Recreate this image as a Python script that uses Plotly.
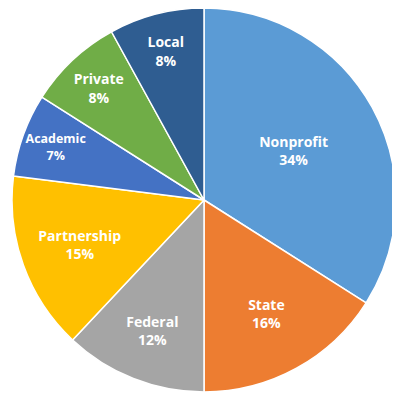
import plotly.graph_objects as go

labels = ["Nonprofit", "State", "Federal", "Partnership", "Academic", "Private", "Local"]
values = [34, 16, 12, 15, 7, 8, 8]
colors = ["#5B9BD5", "#ED7D31", "#A5A5A5", "#FFC000", "#4472C4", "#70AD47", "#2F5D91"]

fig = go.Figure(go.Pie(
    labels=labels, values=values, sort=False, direction="clockwise", rotation=0,
    marker=dict(colors=colors, line=dict(color="white", width=1.5)),
    textinfo="label+percent", textposition="inside", insidetextorientation="horizontal",
    texttemplate="<b>%{label}<br>%{percent:.0%}</b>",
    textfont=dict(family="Open Sans", size=14, color="white"),
    hoverinfo="skip",
))
fig.update_layout(width=392, height=384, margin=dict(l=0, r=0, t=0, b=0),
                  showlegend=False, paper_bgcolor="white")
fig.write_html("out.html")
